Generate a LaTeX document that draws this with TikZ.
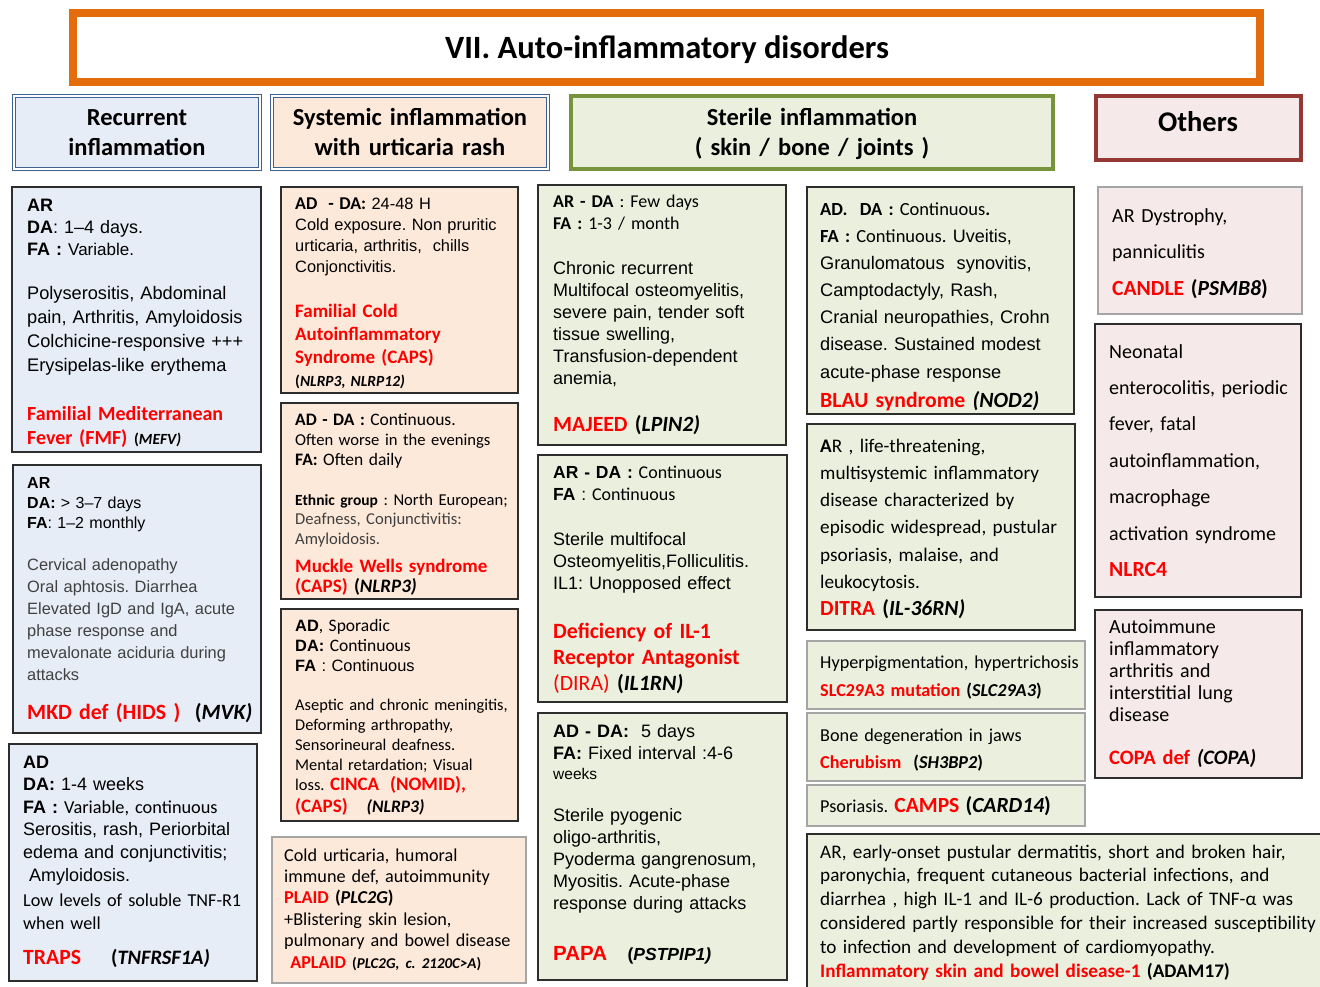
\documentclass[tikz,border=0pt]{standalone}
\usepackage{fontspec}
\setmainfont{Liberation Sans}
\newfontfamily\calib{Carlito}
\frenchspacing
\pgfdeclarelayer{bg}
\pgfsetlayers{bg,main}

\definecolor{bfill}{RGB}{231,237,246}
\definecolor{bstub}{RGB}{218,228,241}
\definecolor{pfill}{RGB}{253,233,217}
\definecolor{gfill}{RGB}{235,240,222}
\definecolor{rfill}{RGB}{246,233,233}
\definecolor{hblue}{RGB}{62,96,146}
\definecolor{hgreen}{RGB}{119,147,60}
\definecolor{hred}{RGB}{149,55,53}
\definecolor{orng}{RGB}{228,108,10}
\definecolor{edge}{RGB}{45,45,45}
\definecolor{lightedge}{RGB}{165,165,165}
\definecolor{dtxt}{RGB}{64,64,64}
\definecolor{rd}{RGB}{255,0,0}

\newcommand\fsz[2]{\fontsize{#1}{#2}\selectfont}
\newcommand\rtx[1]{\textcolor{rd}{#1}}
% panel: style, name, x1, y1, x2, y2 (y grows downward)
\newcommand\panel[6]{\node[#1, minimum width={(#5-#3)*1pt}, minimum height={(#6-#4)*1pt}] (#2) at (#3,#4) {};}

\tikzset{
  box/.style={draw=edge, line width=1.3pt, inner sep=0pt, outer sep=0pt, anchor=north west},
  lbox/.style={box, draw=lightedge},
  dbl/.style={draw=hblue, line width=0.9pt, double=white, double distance=2.2pt, inner sep=0pt, outer sep=0pt, anchor=north west},
  stub/.style={draw=edge, line width=1.2pt},
  tx/.style={anchor=base west, inner sep=0pt, text width=540pt, align=left},
  hd/.style={anchor=base, inner sep=0pt, text width=400pt, align=center, font=\calib\bfseries\fsz{24.5}{30}},
}

\begin{document}
\begin{tikzpicture}[x=1pt,y=-1pt]
\useasboundingbox (0,0) rectangle (1320,986);
\fill[white] (0,0) rectangle (1320,986);

% ---------- title and column headers ----------
\panel{draw=orng, line width=8pt, fill=white, inner sep=0pt, outer sep=0pt, anchor=north west}{ttlbox}{73}{13}{1260}{82}
\node[anchor=base, inner sep=0pt, font=\calib\bfseries\fsz{32.5}{36}] (ttl) at (667,58) {VII. Auto-inflammatory disorders};

\panel{dbl, fill=bfill}{hA}{14}{96}{260}{169}
\panel{dbl, fill=pfill}{hB}{272}{96}{548}{169}
\panel{box, draw=hgreen, line width=4pt, fill=gfill}{hC}{571}{96}{1053}{169}
\panel{box, draw=hred, line width=4pt, fill=rfill}{hD}{1096}{96}{1301}{160}

\node[hd] (hAt) at (137,125.5) {Recurrent\\inflammation};
\node[hd] (hBt) at (410,125.5) {Systemic inflammation\\with urticaria rash};
\node[hd] (hCt) at (812,125.5) {Sterile inflammation\\( skin / bone / joints )};
\node[hd, font=\calib\bfseries\fsz{28.5}{30}] (hDt) at (1198,131) {Others};

% ---------- panels ----------
\panel{box, fill=bfill}{a1}{12}{187}{261}{452}
\panel{box, fill=bfill}{a2}{13}{465}{261}{733}
\panel{box, fill=bfill}{a3}{9}{744}{257}{981}

\panel{box, fill=pfill}{b1}{281}{187}{518}{393}
\panel{box, fill=pfill}{b2}{281}{403}{518}{599}
\panel{box, fill=pfill}{b3}{281}{609}{518}{821}
\panel{lbox, fill=pfill}{b4}{272}{837}{526}{983}

\panel{box, fill=gfill}{c1}{538}{185}{786}{445}
\panel{box, fill=gfill}{c2}{538}{455}{787}{702}
\panel{box, fill=gfill}{c3}{538}{713}{787}{980}

\panel{box, fill=gfill}{d1}{807}{187}{1074}{414}
\panel{box, fill=gfill}{d2}{807}{424}{1075}{630}
\panel{lbox, fill=gfill}{d3}{807}{641}{1085}{709}
\panel{lbox, fill=gfill}{d4}{807}{713}{1085}{781}
\panel{lbox, fill=gfill}{d5}{807}{785}{1085}{826}
\panel{box, fill=gfill}{d6}{807}{834}{1330}{995}

\panel{lbox, fill=rfill}{e1}{1098}{187}{1302}{314}
\panel{box, fill=rfill}{e2}{1095}{324}{1301}{597}
\panel{box, fill=rfill}{e3}{1095}{610}{1302}{778}

% ---------- stubs joining the panels of a column ----------
\coordinate (s1l) at (143,0); \coordinate (s1r) at (164,0);
\coordinate (s2l) at (382,0); \coordinate (s2r) at (405,0);
\coordinate (s3l) at (632,0); \coordinate (s3r) at (652,0);
\coordinate (s4l) at (922,0); \coordinate (s4r) at (943,0);
\begin{pgfonlayer}{bg}
\draw[stub, fill=bstub] (hA.south -| s1l) rectangle (a1.north -| s1r);
\draw[stub, fill=bstub] (a1.south -| s1l) rectangle (a2.north -| s1r);
\draw[stub, fill=bstub] (a2.south -| s1l) rectangle (a3.north -| s1r);
\draw[stub, fill=pfill] (hB.south -| s2l) rectangle (b1.north -| s2r);
\draw[stub, fill=pfill] (b1.south -| s2l) rectangle (b2.north -| s2r);
\draw[stub, fill=pfill] (b2.south -| s2l) rectangle (b3.north -| s2r);
\draw[stub, fill=pfill] (b3.south -| s2l) rectangle (b4.north -| s2r);
\draw[stub, fill=gfill] (hC.south -| s3l) rectangle (c1.north -| s3r);
\draw[stub, fill=gfill] (c1.south -| s3l) rectangle (c2.north -| s3r);
\draw[stub, fill=gfill] (c2.south -| s3l) rectangle (c3.north -| s3r);
\draw[stub, fill=gfill] (hC.south -| s4l) rectangle (d1.north -| s4r);
\draw[stub, fill=gfill] (d1.south -| s4l) rectangle (d2.north -| s4r);
\draw[stub, fill=gfill] (d2.south -| s4l) rectangle (d3.north -| s4r);
\draw[stub, fill=gfill] (d3.south -| s4l) rectangle (d4.north -| s4r);
\draw[stub, fill=gfill] (d4.south -| s4l) rectangle (d5.north -| s4r);
\draw[stub, fill=gfill] (d5.south -| s4l) rectangle (d6.north -| s4r);
\end{pgfonlayer}

% ---------- column 1 : recurrent inflammation ----------
\node[tx, font=\fsz{18}{22}] (a1h) at (27,211) {\textbf{AR}\\\textbf{DA}: 1–4 days.\\\textbf{FA :} {\fsz{17}{22}Variable.}};
\node[tx, font=\fsz{18.2}{24}] (a1b) at (27,299) {Polyserositis, Abdominal\\pain, Arthritis, Amyloidosis\\Colchicine-responsive +++\\Erysipelas-like erythema};
\node[tx, font=\calib\bfseries\fsz{20}{24}, text=rd] (a1n) at (27,420) {Familial Mediterranean\\Fever (FMF) {\color{black}\fsz{15.5}{24}(\textit{MEFV)}}};

\node[tx, font=\fsz{16}{20}] (a2h) at (27,488) {\textbf{AR}\\\textbf{DA:} > 3–7 days\\\textbf{FA}: 1–2 monthly};
\node[tx, font=\fsz{16.4}{22}, text=dtxt] (a2b) at (27,570) {Cervical adenopathy\\Oral aphtosis. Diarrhea\\Elevated IgD and IgA, acute\\phase response and\\mevalonate aciduria during\\attacks};
\node[tx, font=\calib\bfseries\fsz{21.8}{24}, text=rd] (a2n) at (27,719) {MKD def (HIDS )\ \ {\color{black}(\textit{MVK)}}};

\node[tx, font=\fsz{18}{22.6}] (a3h) at (23,768) {\textbf{AD}\\\textbf{DA:} 1-4 weeks\\\textbf{FA :} {\calib\fsz{18.3}{22.6}Variable, continuous}\\Serositis, rash, Periorbital\\edema and conjunctivitis;\\\ Amyloidosis.};
\node[tx, font=\calib\fsz{18.2}{23}] (a3b) at (23,906) {Low levels of soluble TNF-R1\\when well};
\node[tx, font=\calib\bfseries\fsz{21.7}{24}] (a3n) at (23,964) {\rtx{TRAPS}\hspace{30pt}{\fsz{20.5}{24}(\textit{TNFRSF1A)}}};

% ---------- column 2 : urticaria rash ----------
\node[tx, font=\fsz{16.4}{21.3}] (b1h) at (295,209) {{\calib\bfseries\fsz{18}{21.3}AD\ \ - DA:} 24-48 H\\Cold exposure. Non pruritic\\urticaria, arthritis,\ \ chills\\Conjonctivitis.};
\node[tx, font=\calib\bfseries\fsz{19}{23}, text=rd] (b1n) at (295,317) {Familial Cold\\Autoinflammatory\\Syndrome (CAPS)};
\node[tx, font=\calib\bfseries\fsz{15.5}{23}] (b1g) at (295,386) {(\textit{NLRP3, NLRP12)}};

\node[tx, font=\calib\fsz{16.6}{20}] (b2h) at (295,425) {{\bfseries\fsz{17.5}{20}AD - DA :} {\fsz{17.5}{20}Continuous.}\\Often worse in the evenings\\{\bfseries\fsz{17.5}{20}FA:} {\fsz{17.5}{20}Often daily}};
\node[tx, font=\calib\fsz{16.6}{19.7}] (b2b) at (295,505) {{\bfseries\fsz{15.5}{19.7}Ethnic group} : North European;\\\textcolor{dtxt}{Deafness, Conjunctivitis:}\\\textcolor{dtxt}{Amyloidosis.}};
\node[tx, font=\calib\bfseries\fsz{19}{20.5}, text=rd] (b2n) at (295,572) {Muckle Wells syndrome\\(CAPS) \textcolor{black}{(\textit{NLRP3)}}};

\node[tx, font=\fsz{16.4}{20}] (b3h) at (295,631) {\textbf{AD}{\calib\fsz{17.5}{20}, Sporadic}\\\textbf{DA:} {\calib\fsz{17.5}{20}Continuous}\\\textbf{FA} : Continuous};
\node[tx, font=\calib\fsz{16.4}{20}] (b3b) at (295,710) {Aseptic and chronic meningitis,\\Deforming arthropathy,\\Sensorineural deafness.\\Mental retardation; Visual\\loss. {\bfseries\fsz{19}{20}\rtx{CINCA\ \ (NOMID),}}};
\node[tx, font=\calib\bfseries\fsz{19}{20}] (b3n) at (295,812) {\rtx{(CAPS)}\ \ \ {\fsz{17.5}{20}\itshape(NLRP3)}};

\node[tx, font=\calib\fsz{18.2}{21.4}] (b4t) at (284,861) {Cold urticaria, humoral\\immune def, autoimmunity\\{\bfseries\rtx{PLAID} (\textit{PLC2G})}\\+Blistering skin lesion,\\pulmonary and bowel disease\\\ {\bfseries\rtx{APLAID} {\fsz{15}{21.4}(\textit{PLC2G, c. 2120C>A})}}};

% ---------- column 3 : sterile inflammation ----------
\node[tx, font=\calib\fsz{18}{22}] (c1h) at (553,207) {\textbf{AR - DA} : Few days\\\textbf{FA :} 1-3 / month};
\node[tx, font=\fsz{18}{22}] (c1b) at (553,274) {Chronic recurrent\\Multifocal osteomyelitis,\\severe pain, tender soft\\tissue swelling,\\Transfusion-dependent\\anemia,};
\node[tx, font=\calib\bfseries\fsz{21.7}{24}] (c1n) at (553,431) {\rtx{MAJEED} (\textit{LPIN2)}};

\node[tx, font=\fsz{17.5}{22}] (c2h) at (553,478) {\textbf{AR - DA :} {\calib\fsz{18}{22}Continuous}\\\textbf{FA} : {\calib\fsz{18}{22}Continuous}};
\node[tx, font=\fsz{18}{22}] (c2b) at (553,545) {Sterile multifocal\\Osteomyelitis,Folliculitis.\\IL1: Unopposed effect};
\node[tx, font=\calib\bfseries\fsz{21.8}{25.8}, text=rd] (c2n) at (553,638.5) {Deficiency of IL-1\\Receptor Antagonist\\{\mdseries(DIRA)} \textcolor{black}{(\textit{IL1RN)}}};

\node[tx, font=\fsz{18}{22}] (c3h) at (553,737) {\textbf{AD - DA:}\ \ 5 days\\\textbf{FA:} Fixed interval :4-6\\[-2pt]{\fsz{15.5}{20}weeks}};
\node[tx, font=\fsz{18}{22}] (c3b) at (553,821) {Sterile pyogenic\\oligo-arthritis,\\Pyoderma gangrenosum,\\Myositis. Acute-phase\\response during attacks};
\node[tx, font=\bfseries\fsz{20.5}{24}] (c3n) at (553,960) {\rtx{PAPA}\ \ \ {\fsz{17.5}{24}(\textit{PSTPIP1)}}};

% ---------- column 4 : skin / bone / joints ----------
\node[tx, font=\calib\fsz{18.5}{27.3}] (d1h) at (820,215) {\textbf{AD.\ \ DA :} Continuous\textbf{.}\\\textbf{FA :} Continuous. {\rmfamily\fsz{18}{27.3}Uveitis,}};
\node[tx, font=\fsz{18.2}{27.3}] (d1b) at (820,269) {Granulomatous\ \ synovitis,\\Camptodactyly, Rash,\\Cranial neuropathies, Crohn\\disease. Sustained modest\\acute-phase response};
\node[tx, font=\calib\bfseries\fsz{21.7}{27}] (d1n) at (820,407) {\rtx{BLAU syndrome} \textit{(NOD2)}};

\node[tx, font=\calib\fsz{19.2}{27.3}] (d2b) at (820,452) {\textbf{A}R , life-threatening,\\multisystemic inflammatory\\disease characterized by\\episodic widespread, pustular\\psoriasis, malaise, and\\leukocytosis.};
\node[tx, font=\calib\bfseries\fsz{21.5}{27}] (d2n) at (820,615) {\rtx{DITRA} (\textit{IL-36RN)}};

\node[tx, font=\calib\fsz{18.2}{28}] (d3t) at (820,668) {Hyperpigmentation, hypertrichosis\\{\bfseries\rtx{SLC29A3 mutation} (\textit{SLC29A3})}};
\node[tx, font=\calib\fsz{18.2}{27}] (d4t) at (820,741) {Bone degeneration in jaws\\{\bfseries\rtx{Cherubism}\ \ (\textit{SH3BP2})}};
\node[tx, font=\calib\fsz{18.2}{24}] (d5t) at (820,812) {Psoriasis. {\bfseries\fsz{21.6}{24}\rtx{CAMPS} (\textit{CARD14})}};
\node[tx, font=\calib\fsz{19.2}{23.8}] (d6t) at (820,858) {AR, early-onset pustular dermatitis, short and broken hair,\\paronychia, frequent cutaneous bacterial infections, and\\diarrhea , high IL-1 and IL-6 production. Lack of TNF-α was\\considered partly responsible for their increased susceptibility\\to infection and development of cardiomyopathy.\\{\bfseries\rtx{Inflammatory skin and bowel disease-1} (ADAM17)}};

% ---------- column 5 : others ----------
\node[tx, font=\calib\fsz{20}{36.5}] (e1t) at (1112,222) {AR Dystrophy,\\panniculitis\\{\bfseries\fsz{21.6}{36.5}\rtx{CANDLE} (\textit{PSMB8})}};
\node[tx, font=\calib\fsz{20}{36.4}] (e2t) at (1109,358) {Neonatal\\enterocolitis, periodic\\fever, fatal\\autoinflammation,\\macrophage\\activation syndrome\\{\bfseries\fsz{21.6}{36.4}\rtx{NLRC4}}};
\node[tx, font=\calib\fsz{20}{22}] (e3b) at (1109,633) {Autoimmune\\inflammatory\\arthritis and\\interstitial lung\\disease};
\node[tx, font=\calib\bfseries\fsz{20.5}{22}] (e3n) at (1109,764) {\rtx{COPA def} \textit{(COPA)}};
\end{tikzpicture}
\end{document}
